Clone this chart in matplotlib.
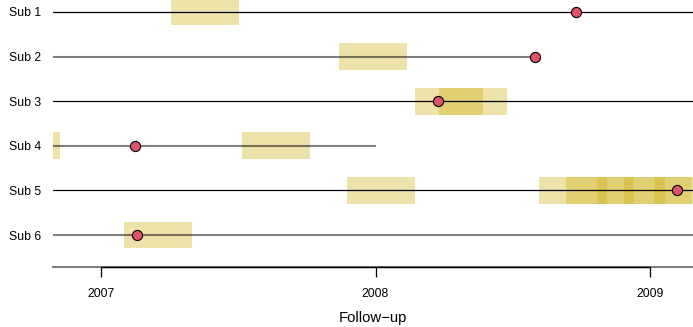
import matplotlib
matplotlib.use("Agg")
import matplotlib.pyplot as plt
from matplotlib.patches import Rectangle

plt.rcParams['font.family'] = ['Liberation Sans', 'DejaVu Sans']

subjects = ["Sub 1", "Sub 2", "Sub 3", "Sub 4", "Sub 5", "Sub 6"]
# follow-up line start/end
line_start = [2006.6, 2006.6, 2006.6, 2006.6, 2006.6, 2006.6]
line_end = [2009.5, 2008.581, 2009.5, 2008.0, 2009.5, 2009.5]
# event times
event_time = [2008.730, 2008.581, 2008.228, 2007.124, 2009.098, 2007.131]
# exposure periods: start times per subject (each lasts period_len years)
period_starts = [
    [2007.255],
    [2007.867],
    [2008.144, 2008.231],
    [2006.603, 2007.514],
    [2007.896, 2008.596, 2008.694, 2008.807, 2008.905, 2009.015],
    [2007.084],
]
period_len = 0.2477
tick_years = [2007, 2008, 2009]

W, H = 693, 327
fig = plt.figure(figsize=(W / 100, H / 100), dpi=100)
ax = fig.add_axes([53 / W, (H - 267) / H, 1 - 53 / W, 267 / H])

n = len(subjects)
ypos = [n - i for i in range(n)]
half_h = 0.30

for i in range(n):
    y = ypos[i]
    for s in period_starts[i]:
        ax.add_patch(Rectangle((s, y - half_h), period_len, 2 * half_h,
                               facecolor=(205 / 255, 173 / 255, 12 / 255), alpha=0.35,
                               edgecolor='none', zorder=1))
for i in range(n):
    y = ypos[i]
    if i % 2 == 0:
        ax.plot([line_start[i], line_end[i]], [y, y], color='black', lw=0.9, zorder=2,
                solid_capstyle='butt')
    else:
        ax.plot([line_start[i], line_end[i]], [y, y], color='black', alpha=0.5, lw=1.5,
                zorder=2, solid_capstyle='butt')
    ax.plot(event_time[i], y, 'o', ms=7.3, markerfacecolor='#DF536B',
            markeredgecolor='black', markeredgewidth=0.8, zorder=3)

x0 = 2007 - 48 / 274.5
x1 = 2009 + 43 / 274.5
ax.set_xlim(x0, x1)
ax.set_ylim(1 - 32 / 44.6, 6 + 12 / 44.6)

for sp in ['top', 'right', 'left']:
    ax.spines[sp].set_visible(False)
ax.spines['bottom'].set_color((0, 0, 0, 0.5))
ax.spines['bottom'].set_linewidth(1.5)
ax.plot([tick_years[0], tick_years[-1]], [ax.get_ylim()[0]] * 2, color='black', lw=1.0,
        clip_on=False, zorder=4, solid_capstyle='butt')

ax.set_xticks(tick_years)
ax.set_xticklabels([str(t) for t in tick_years], fontsize=8.8)
ax.tick_params(axis='x', length=7, width=0.9, color='black', pad=8)
ax.set_yticks(ypos)
ax.set_yticklabels(subjects, fontsize=8.8)
ax.tick_params(axis='y', length=0, pad=8.6)
ax.set_xlabel("Follow\u2212up", fontsize=10.7, labelpad=8)

fig.savefig("out.png", dpi=100)
